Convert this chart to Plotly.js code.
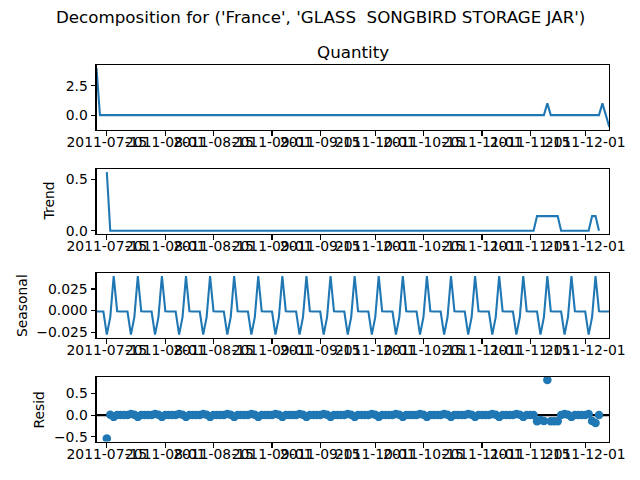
<!DOCTYPE html>
<html><head><meta charset="utf-8">
<script src="https://cdn.plot.ly/plotly-3.0.1.min.js"></script>
<style>html,body{margin:0;padding:0;background:#fff}#chart{width:640px;height:480px}</style>
</head><body><div id="chart"></div>
<script>
// Daily index, 2011-07-12 .. 2011-12-08
const dates = [
'2011-07-12','2011-07-13','2011-07-14','2011-07-15','2011-07-16','2011-07-17','2011-07-18','2011-07-19','2011-07-20','2011-07-21',
'2011-07-22','2011-07-23','2011-07-24','2011-07-25','2011-07-26','2011-07-27','2011-07-28','2011-07-29','2011-07-30','2011-07-31',
'2011-08-01','2011-08-02','2011-08-03','2011-08-04','2011-08-05','2011-08-06','2011-08-07','2011-08-08','2011-08-09','2011-08-10',
'2011-08-11','2011-08-12','2011-08-13','2011-08-14','2011-08-15','2011-08-16','2011-08-17','2011-08-18','2011-08-19','2011-08-20',
'2011-08-21','2011-08-22','2011-08-23','2011-08-24','2011-08-25','2011-08-26','2011-08-27','2011-08-28','2011-08-29','2011-08-30',
'2011-08-31',
'2011-09-01','2011-09-02','2011-09-03','2011-09-04','2011-09-05','2011-09-06','2011-09-07','2011-09-08','2011-09-09','2011-09-10',
'2011-09-11','2011-09-12','2011-09-13','2011-09-14','2011-09-15','2011-09-16','2011-09-17','2011-09-18','2011-09-19','2011-09-20',
'2011-09-21','2011-09-22','2011-09-23','2011-09-24','2011-09-25','2011-09-26','2011-09-27','2011-09-28','2011-09-29','2011-09-30',
'2011-10-01','2011-10-02','2011-10-03','2011-10-04','2011-10-05','2011-10-06','2011-10-07','2011-10-08','2011-10-09','2011-10-10',
'2011-10-11','2011-10-12','2011-10-13','2011-10-14','2011-10-15','2011-10-16','2011-10-17','2011-10-18','2011-10-19','2011-10-20',
'2011-10-21','2011-10-22','2011-10-23','2011-10-24','2011-10-25','2011-10-26','2011-10-27','2011-10-28','2011-10-29','2011-10-30',
'2011-10-31',
'2011-11-01','2011-11-02','2011-11-03','2011-11-04','2011-11-05','2011-11-06','2011-11-07','2011-11-08','2011-11-09','2011-11-10',
'2011-11-11','2011-11-12','2011-11-13','2011-11-14','2011-11-15','2011-11-16','2011-11-17','2011-11-18','2011-11-19','2011-11-20',
'2011-11-21','2011-11-22','2011-11-23','2011-11-24','2011-11-25','2011-11-26','2011-11-27','2011-11-28','2011-11-29','2011-11-30',
'2011-12-01','2011-12-02','2011-12-03','2011-12-04','2011-12-05','2011-12-06','2011-12-07','2011-12-08'
];

// rows of 7 days each
const quantity = [
4,0,0,0,0,0,0,
0,0,0,0,0,0,0, 0,0,0,0,0,0,0, 0,0,0,0,0,0,0, 0,0,0,0,0,0,0, 0,0,0,0,0,0,0,
0,0,0,0,0,0,0, 0,0,0,0,0,0,0, 0,0,0,0,0,0,0, 0,0,0,0,0,0,0, 0,0,0,0,0,0,0,
0,0,0,0,0,0,0, 0,0,0,0,0,0,0, 0,0,0,0,0,0,0, 0,0,0,0,0,0,0, 0,0,0,0,0,0,0,
0,0,0,0,0,0,0, 0,0,0,0,0,0,0,
0,0,0,0,0,1,0,
0,0,0,0,0,0,0,
0,0,0,0,0,0,0,
1,0,-1
];

const trend = [
null,null,null,0.5714,0,0,0,
0,0,0,0,0,0,0, 0,0,0,0,0,0,0, 0,0,0,0,0,0,0, 0,0,0,0,0,0,0, 0,0,0,0,0,0,0,
0,0,0,0,0,0,0, 0,0,0,0,0,0,0, 0,0,0,0,0,0,0, 0,0,0,0,0,0,0, 0,0,0,0,0,0,0,
0,0,0,0,0,0,0, 0,0,0,0,0,0,0, 0,0,0,0,0,0,0, 0,0,0,0,0,0,0, 0,0,0,0,0,0,0,
0,0,0,0,0,0,0, 0,0,0,0,0,0,0,
0,0,0.1429,0.1429,0.1429,0.1429,0.1429,
0.1429,0.1429,0,0,0,0,0,
0,0,0,0,0.1429,0.1429,0,
null,null,null
];

const seasonal = [
-0.0012,-0.0012,-0.0012,-0.0280,-0.0076,0.0400,-0.0008,
-0.0012,-0.0012,-0.0012,-0.0280,-0.0076,0.0400,-0.0008,
-0.0012,-0.0012,-0.0012,-0.0280,-0.0076,0.0400,-0.0008,
-0.0012,-0.0012,-0.0012,-0.0280,-0.0076,0.0400,-0.0008,
-0.0012,-0.0012,-0.0012,-0.0280,-0.0076,0.0400,-0.0008,
-0.0012,-0.0012,-0.0012,-0.0280,-0.0076,0.0400,-0.0008,
-0.0012,-0.0012,-0.0012,-0.0280,-0.0076,0.0400,-0.0008,
-0.0012,-0.0012,-0.0012,-0.0280,-0.0076,0.0400,-0.0008,
-0.0012,-0.0012,-0.0012,-0.0280,-0.0076,0.0400,-0.0008,
-0.0012,-0.0012,-0.0012,-0.0280,-0.0076,0.0400,-0.0008,
-0.0012,-0.0012,-0.0012,-0.0280,-0.0076,0.0400,-0.0008,
-0.0012,-0.0012,-0.0012,-0.0280,-0.0076,0.0400,-0.0008,
-0.0012,-0.0012,-0.0012,-0.0280,-0.0076,0.0400,-0.0008,
-0.0012,-0.0012,-0.0012,-0.0280,-0.0076,0.0400,-0.0008,
-0.0012,-0.0012,-0.0012,-0.0280,-0.0076,0.0400,-0.0008,
-0.0012,-0.0012,-0.0012,-0.0280,-0.0076,0.0400,-0.0008,
-0.0012,-0.0012,-0.0012,-0.0280,-0.0076,0.0400,-0.0008,
-0.0012,-0.0012,-0.0012,-0.0280,-0.0076,0.0400,-0.0008,
-0.0012,-0.0012,-0.0012,-0.0280,-0.0076,0.0400,-0.0008,
-0.0012,-0.0012,-0.0012,-0.0280,-0.0076,0.0400,-0.0008,
-0.0012,-0.0012,-0.0012,-0.0280,-0.0076,0.0400,-0.0008,
-0.0012,-0.0012,-0.0012
];

const resid = [
null,null,null,-0.5434,0.0076,-0.0400,0.0008,
0.0012,0.0012,0.0012,0.0280,0.0076,-0.0400,0.0008,
0.0012,0.0012,0.0012,0.0280,0.0076,-0.0400,0.0008,
0.0012,0.0012,0.0012,0.0280,0.0076,-0.0400,0.0008,
0.0012,0.0012,0.0012,0.0280,0.0076,-0.0400,0.0008,
0.0012,0.0012,0.0012,0.0280,0.0076,-0.0400,0.0008,
0.0012,0.0012,0.0012,0.0280,0.0076,-0.0400,0.0008,
0.0012,0.0012,0.0012,0.0280,0.0076,-0.0400,0.0008,
0.0012,0.0012,0.0012,0.0280,0.0076,-0.0400,0.0008,
0.0012,0.0012,0.0012,0.0280,0.0076,-0.0400,0.0008,
0.0012,0.0012,0.0012,0.0280,0.0076,-0.0400,0.0008,
0.0012,0.0012,0.0012,0.0280,0.0076,-0.0400,0.0008,
0.0012,0.0012,0.0012,0.0280,0.0076,-0.0400,0.0008,
0.0012,0.0012,0.0012,0.0280,0.0076,-0.0400,0.0008,
0.0012,0.0012,0.0012,0.0280,0.0076,-0.0400,0.0008,
0.0012,0.0012,0.0012,0.0280,0.0076,-0.0400,0.0008,
0.0012,0.0012,0.0012,0.0280,0.0076,-0.0400,0.0008,
0.0012,0.0012,0.0012,0.0280,0.0076,-0.0400,0.0008,
0.0012,0.0012,-0.1417,-0.1149,-0.1353,0.8171,-0.1421,
-0.1417,-0.1417,0.0012,0.0280,0.0076,-0.0400,0.0008,
0.0012,0.0012,0.0012,0.0280,-0.1353,-0.1829,0.0008,
null,null,null
];

const zeroLine = [0, 0];

const xTickVals = ['2011-07-15','2011-08-01','2011-08-15','2011-09-01','2011-09-15',
                   '2011-10-01','2011-10-15','2011-11-01','2011-11-15','2011-12-01'];
const xTickText = ['2011-07-15','2011-08-01','2011-08-15','2011-09-01','2011-09-15',
                   '2011-10-01','2011-10-15','2011-11-01','2011-11-15','2011-12-01'];
const qTickVals = [0, 2.5];       const qTickText = ['0.0', '2.5'];
const tTickVals = [0, 0.5];       const tTickText = ['0.0', '0.5'];
const sTickVals = [-0.025, 0, 0.025]; const sTickText = ['\u22120.025', '0.000', '0.025'];
const rTickVals = [-0.5, 0, 0.5]; const rTickText = ['\u22120.5', '0.0', '0.5'];

const chartTitle = "Decomposition for ('France', 'GLASS\u00a0 SONGBIRD STORAGE JAR')";
const panelTitle = 'Quantity';
const yLabels = ['Trend', 'Seasonal', 'Resid'];

const BLUE = '#1f77b4';
const LW = 2.08;
const FONT = 'DejaVu Sans, Liberation Sans, sans-serif';
const TICKSIZE = 13.9;

function padRange(arr) {
  const v = arr.filter(a => a !== null);
  const lo = Math.min(...v), hi = Math.max(...v);
  const m = (hi - lo) * 0.05;
  return [lo - m, hi + m];
}

const xDomain = [96.5 / 640, 609.3 / 640];
const tops = [65.3, 169.2, 273.1, 377.0];
const H = 64.5;
function yDom(i) { return [1 - (tops[i] + H) / 480, 1 - tops[i] / 480]; }

function xAxis(anchor) {
  return {
    type: 'date', domain: xDomain, anchor: anchor,
    range: [dates[0], dates[dates.length - 1]],
    tickmode: 'array', tickvals: xTickVals, ticktext: xTickText, tickangle: 0,
    ticks: 'outside', ticklen: 4.9, tickwidth: 1.1, tickcolor: '#000',
    ticklabelstandoff: -5,
    showline: true, linecolor: '#000', linewidth: 1.1, mirror: true,
    showgrid: false, zeroline: false,
    tickfont: { family: FONT, size: TICKSIZE, color: '#000' }
  };
}
function yAxis(anchor, i, range, tv, tt) {
  return {
    domain: yDom(i), anchor: anchor, range: range,
    tickmode: 'array', tickvals: tv, ticktext: tt,
    ticks: 'outside', ticklen: 4.9, tickwidth: 1.1, tickcolor: '#000',
    showline: true, linecolor: '#000', linewidth: 1.1, mirror: true,
    showgrid: false, zeroline: false,
    tickfont: { family: FONT, size: TICKSIZE, color: '#000' }
  };
}

const traces = [
  { x: dates, y: quantity, xaxis: 'x', yaxis: 'y', mode: 'lines',
    line: { color: BLUE, width: LW }, hoverinfo: 'skip' },
  { x: dates, y: trend, xaxis: 'x2', yaxis: 'y2', mode: 'lines',
    line: { color: BLUE, width: LW }, hoverinfo: 'skip' },
  { x: dates, y: seasonal, xaxis: 'x3', yaxis: 'y3', mode: 'lines',
    line: { color: BLUE, width: LW }, hoverinfo: 'skip' },
  { x: [dates[0], dates[dates.length - 1]], y: zeroLine, xaxis: 'x4', yaxis: 'y4', mode: 'lines',
    line: { color: '#000000', width: LW }, hoverinfo: 'skip' },
  { x: dates, y: resid, xaxis: 'x4', yaxis: 'y4', mode: 'markers',
    marker: { color: BLUE, size: 8.5, line: { width: 0 } }, hoverinfo: 'skip' }
];

const layout = {
  width: 640, height: 480,
  margin: { l: 0, r: 0, t: 0, b: 0, pad: 0 },
  paper_bgcolor: '#ffffff', plot_bgcolor: '#ffffff',
  showlegend: false,
  font: { family: FONT, color: '#000' },
  xaxis: xAxis('y'), xaxis2: xAxis('y2'), xaxis3: xAxis('y3'), xaxis4: xAxis('y4'),
  yaxis: yAxis('x', 0, padRange(quantity), qTickVals, qTickText),
  yaxis2: yAxis('x2', 1, padRange(trend), tTickVals, tTickText),
  yaxis3: yAxis('x3', 2, padRange(seasonal), sTickVals, sTickText),
  yaxis4: yAxis('x4', 3, padRange(resid), rTickVals, rTickText),
  annotations: [
    { text: chartTitle, xref: 'paper', yref: 'paper', x: 0.5, y: 1 - 16.7 / 480,
      xanchor: 'center', yanchor: 'middle', showarrow: false,
      font: { family: FONT, size: 16.7, color: '#000' } },
    { text: panelTitle, xref: 'paper', yref: 'paper', x: 352.9 / 640, y: 1 - 51.7 / 480,
      xanchor: 'center', yanchor: 'middle', showarrow: false,
      font: { family: FONT, size: 16.7, color: '#000' } },
    { text: yLabels[0], xref: 'paper', yref: 'paper', x: 49 / 640, y: 1 - (tops[1] + H / 2) / 480,
      xanchor: 'center', yanchor: 'middle', showarrow: false, textangle: -90,
      font: { family: FONT, size: TICKSIZE, color: '#000' } },
    { text: yLabels[1], xref: 'paper', yref: 'paper', x: 22.7 / 640, y: 1 - (tops[2] + H / 2) / 480,
      xanchor: 'center', yanchor: 'middle', showarrow: false, textangle: -90,
      font: { family: FONT, size: TICKSIZE, color: '#000' } },
    { text: yLabels[2], xref: 'paper', yref: 'paper', x: 39.3 / 640, y: 1 - (tops[3] + H / 2) / 480,
      xanchor: 'center', yanchor: 'middle', showarrow: false, textangle: -90,
      font: { family: FONT, size: TICKSIZE, color: '#000' } }
  ]
};

Plotly.newPlot('chart', traces, layout, { staticPlot: true, displayModeBar: false });
</script>
</body></html>
